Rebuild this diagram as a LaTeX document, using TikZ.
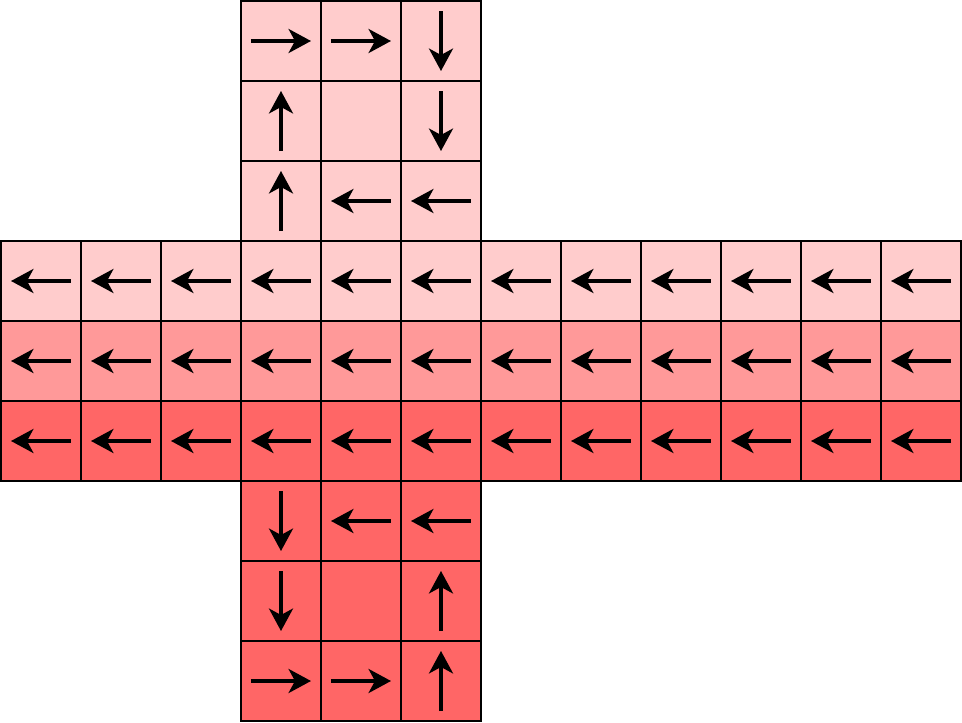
\documentclass[tikz,border=0pt]{standalone}
\usepackage{xcolor}
\usepackage{tikz}
\usetikzlibrary{arrows.meta}

\definecolor{facelight}{HTML}{FFCCCC}
\definecolor{facemid}{HTML}{FF9999}
\definecolor{facedark}{HTML}{FF6666}

\tikzset{
  cell/.style={draw=black, line width=0.36pt, minimum size=1cm, inner sep=0pt, outer sep=0pt},
  turn/.style={line width=1.3pt, -{Stealth[length=2.8mm, width=3mm, inset=0.8mm]}}
}

\begin{document}
\begin{tikzpicture}
    \useasboundingbox (-0.0125,-0.0125) rectangle (12.0125,9.0125);

    % Top face
    \foreach \c in {3,4,5}
        \foreach \r in {0,1,2}
            \node[cell, fill=facelight] (c-\r-\c) at (\c+0.5, 8.5-\r) {};

    % Middle band
    \foreach \c in {0,...,11} {
        \node[cell, fill=facelight] (c-3-\c) at (\c+0.5, 5.5) {};
        \node[cell, fill=facemid] (c-4-\c) at (\c+0.5, 4.5) {};
        \node[cell, fill=facedark] (c-5-\c) at (\c+0.5, 3.5) {};
    }

    % Bottom face
    \foreach \c in {3,4,5}
        \foreach \r in {6,7,8}
            \node[cell, fill=facedark] (c-\r-\c) at (\c+0.5, 8.5-\r) {};

    % Arrows on the faces
    \foreach \r/\c/\a in {0/3/0, 0/4/0, 0/5/-90, 1/3/90, 1/5/-90, 2/3/90, 2/4/180, 2/5/180,
                          6/3/-90, 6/4/180, 6/5/180, 7/3/-90, 7/5/90, 8/3/0, 8/4/0, 8/5/90}
        \draw[turn] (c-\r-\c.center) ++(\a+180:0.375) -- ++(\a:0.75);

    % Arrows on the band
    \foreach \r in {3,4,5}
        \foreach \c in {0,...,11}
            \draw[turn] (c-\r-\c.center) ++(0:0.375) -- ++(180:0.75);
\end{tikzpicture}
\end{document}
